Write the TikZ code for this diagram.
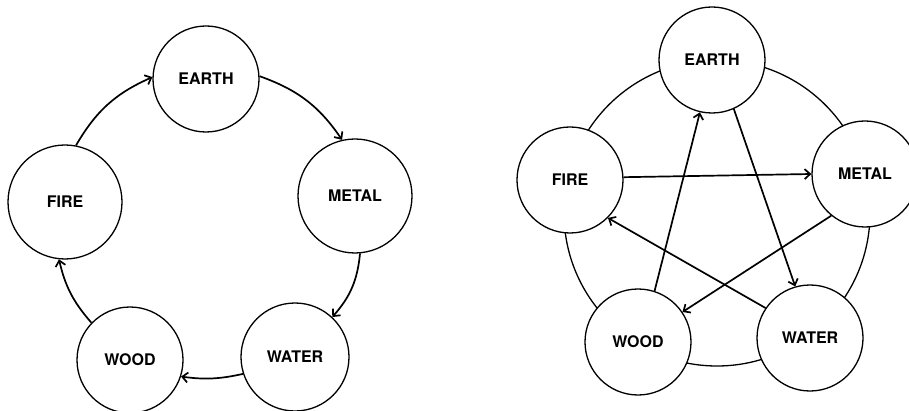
\documentclass[tikz,border=0pt]{standalone}
\usepackage{fontspec}
\setmainfont{TeX Gyre Heros}
\usetikzlibrary{arrows.meta}
\tikzset{
  elem/.style={circle, draw, line width=1.3pt, fill=white, inner sep=0pt,
    minimum size=106pt, font=\fontsize{16}{16}\selectfont\bfseries},
  flow/.style={line width=1.7pt, -{Straight Barb[length=5.5pt,width=10pt]}},
  ring/.style={line width=1.3pt}
}
\begin{document}
\begin{tikzpicture}[x=1pt,y=-1pt]
\useasboundingbox (0,0) rectangle (909,411);
% ---------- left: generating cycle ----------
\node[elem] (le) at (206,79) {EARTH};
\node[elem, minimum size=114pt] (lm) at (355,196) {METAL};
\node[elem, minimum size=108pt] (lw) at (295,357) {WATER};
\node[elem] (lo) at (130,360) {WOOD};
\node[elem, minimum size=114pt] (lf) at (65,202) {FIRE};
\draw[flow] (lf.79) to[bend left=18] (le.178);
\draw[flow] (le.3) to[bend left=18] (lm.103);
\draw[flow] (lm.-85) to[bend left=18] (lw.47);
\draw[flow] (lw.-162) to[bend left=10] (lo.-18);
\draw[flow] (lo.136) to[bend left=14] (lf.-96);
% ---------- right: controlling cycle ----------
\coordinate (rc) at (717,213);
\draw[ring] (rc) circle[radius=153pt];
\node[elem] (re) at (712,60) {EARTH};
\node[elem] (rm) at (865,174) {METAL};
\node[elem] (rw) at (810,338) {WATER};
\node[elem] (ro) at (638,342) {WOOD};
\node[elem] (rf) at (570,180) {FIRE};
\draw[flow] (rf.3) -- (rm.180);
\draw[flow] (ro.72) -- (re.-103);
\draw[flow] (re.-66) -- (rw.106);
\draw[flow] (rm.-129) -- (ro.34);
\draw[flow] (rw.146) -- (rf.-45);
\end{tikzpicture}
\end{document}
